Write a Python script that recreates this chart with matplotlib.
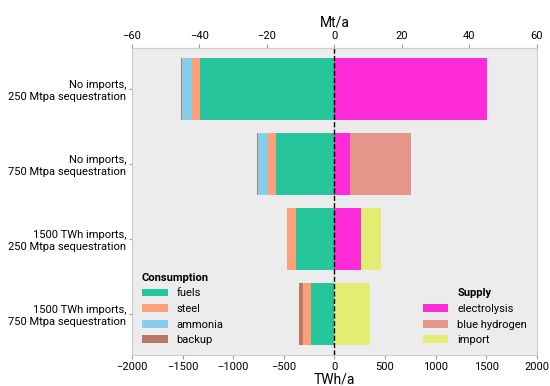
import matplotlib.pyplot as plt
import numpy as np

plt.rcParams['font.family'] = ['Roboto', 'DejaVu Sans']

# scenarios (top to bottom)
scenarios = ["No imports,\n250 Mtpa sequestration",
             "No imports,\n750 Mtpa sequestration",
             "1500 TWh imports,\n250 Mtpa sequestration",
             "1500 TWh imports,\n750 Mtpa sequestration"]

# consumption, TWh/a (drawn to the left)
fuels   = [1326, 576, 380, 227]
steel   = [79, 82, 84, 79]
ammonia = [99, 95, 0, 0]
backup  = [7, 10, 3, 40]

# supply, TWh/a (drawn to the right)
electrolysis   = [1511, 154, 263, 0]
blue_hydrogen  = [0, 604, 0, 0]
imports        = [0, 0, 198, 349]

TWH_PER_MT = 33.33

COLORS = {
    "fuels":          "#26c59c",
    "steel":          "#ffa07a",
    "ammonia":        "#87ceea",
    "backup":         "#b8796a",
    "electrolysis":   "#ff2ad8",
    "blue hydrogen":  "#e6958a",
    "import":         "#e3ec73",
}

fig = plt.figure(figsize=(5.5, 3.86), dpi=100)
ax = fig.add_axes([0.24, 0.08, 0.736, 0.796])
ax.set_facecolor("#ececec")

y = np.arange(len(scenarios))
h = 0.82

cons = [("fuels", fuels), ("steel", steel), ("ammonia", ammonia), ("backup", backup)]
supp = [("electrolysis", electrolysis), ("blue hydrogen", blue_hydrogen), ("import", imports)]

cons_handles = []
left = np.zeros(len(scenarios))
for name, vals in cons:
    vals = np.array(vals, dtype=float)
    b = ax.barh(y, -vals, left=-left, height=h, color=COLORS[name], label=name, lw=0)
    cons_handles.append(b)
    left += vals

supp_handles = []
left = np.zeros(len(scenarios))
for name, vals in supp:
    vals = np.array(vals, dtype=float)
    b = ax.barh(y, vals, left=left, height=h, color=COLORS[name], label=name, lw=0)
    supp_handles.append(b)
    left += vals

ax.axvline(0, color="black", ls="--", lw=1)

ax.set_xlim(-2000, 2000)
ax.set_ylim(len(scenarios) - 0.5 + 0.05, -0.5 - 0.05)
ax.set_yticks(y)
ax.set_yticklabels(scenarios, fontsize=8)
ax.set_xticks(np.arange(-2000, 2001, 500))
ax.tick_params(axis="x", labelsize=8, color="#999999", length=3, pad=2)
ax.tick_params(axis="y", color="#999999", length=2, pad=2)
ax.set_xlabel("TWh/a", fontsize=10, labelpad=0)
for s in ax.spines.values():
    s.set_color("#cccccc")

top = ax.secondary_xaxis("top", functions=(lambda x: x / TWH_PER_MT, lambda x: x * TWH_PER_MT))
top.set_xticks(np.arange(-60, 61, 20))
top.tick_params(labelsize=8, color="#999999", length=3, pad=2)
top.set_xlabel("Mt/a", fontsize=10, labelpad=3)
top.spines["top"].set_color("#cccccc")

leg1 = ax.legend(handles=cons_handles, title="Consumption", loc="lower left",
                 frameon=False, fontsize=8, title_fontproperties={"weight": "bold", "size": 8},
                 bbox_to_anchor=(0.0, 0.0), alignment="left", handlelength=2.3)
ax.add_artist(leg1)
ax.legend(handles=supp_handles, title="Supply", loc="lower right",
          frameon=False, fontsize=8, title_fontproperties={"weight": "bold", "size": 8},
          bbox_to_anchor=(1.0, 0.0), handlelength=2.3)

fig.savefig("out.png", dpi=100)
